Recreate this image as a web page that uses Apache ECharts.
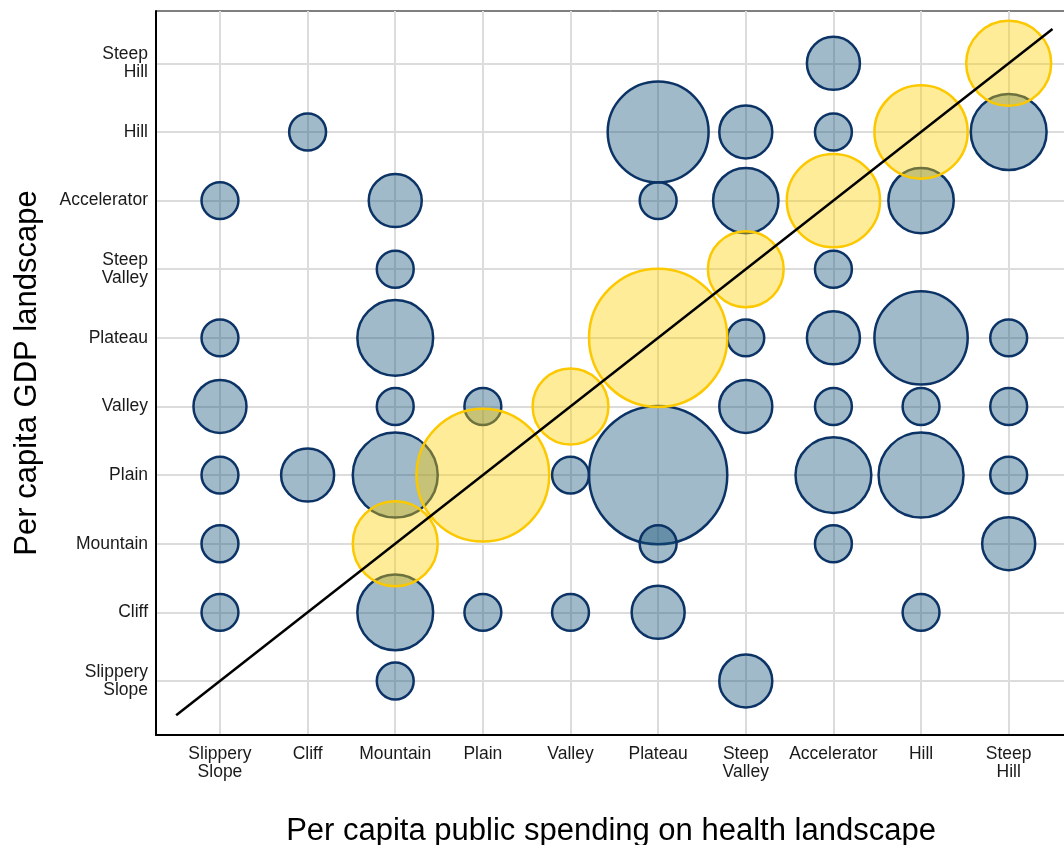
<!DOCTYPE html>
<html>
<head>
<meta charset="utf-8">
<title>GDP vs health spending landscapes</title>
<script src="https://cdn.jsdelivr.net/npm/echarts@6/dist/echarts.min.js"></script>
<style>
  html, body { margin: 0; padding: 0; background: #ffffff; }
  #chart { width: 1064px; height: 845px; }
</style>
</head>
<body>
<div id="chart"></div>
<script>
// Landscape categories, shared by both axes (low to high)
const categories = [
  'Slippery Slope', 'Cliff', 'Mountain', 'Plain', 'Valley',
  'Plateau', 'Steep Valley', 'Accelerator', 'Hill', 'Steep Hill'
];
// Tick labels: two-word names wrap onto two lines
const tickLabels = categories.map(c => c.replace(' ', '\n'));

// Countries whose health-spending landscape differs from their GDP landscape
// [spending landscape, GDP landscape, number of countries]
const mismatchedCells = [
  ['Slippery Slope', 'Accelerator', 1],
  ['Slippery Slope', 'Plateau', 1],
  ['Slippery Slope', 'Valley', 2],
  ['Slippery Slope', 'Plain', 1],
  ['Slippery Slope', 'Mountain', 1],
  ['Slippery Slope', 'Cliff', 1],
  ['Cliff', 'Hill', 1],
  ['Cliff', 'Plain', 2],
  ['Mountain', 'Accelerator', 2],
  ['Mountain', 'Steep Valley', 1],
  ['Mountain', 'Plateau', 4],
  ['Mountain', 'Valley', 1],
  ['Mountain', 'Plain', 5],
  ['Mountain', 'Cliff', 4],
  ['Mountain', 'Slippery Slope', 1],
  ['Plain', 'Valley', 1],
  ['Plain', 'Cliff', 1],
  ['Valley', 'Plain', 1],
  ['Valley', 'Cliff', 1],
  ['Plateau', 'Hill', 7],
  ['Plateau', 'Accelerator', 1],
  ['Plateau', 'Plain', 13],
  ['Plateau', 'Mountain', 1],
  ['Plateau', 'Cliff', 2],
  ['Steep Valley', 'Hill', 2],
  ['Steep Valley', 'Accelerator', 3],
  ['Steep Valley', 'Plateau', 1],
  ['Steep Valley', 'Valley', 2],
  ['Steep Valley', 'Slippery Slope', 2],
  ['Accelerator', 'Steep Hill', 2],
  ['Accelerator', 'Hill', 1],
  ['Accelerator', 'Steep Valley', 1],
  ['Accelerator', 'Plateau', 2],
  ['Accelerator', 'Valley', 1],
  ['Accelerator', 'Plain', 4],
  ['Accelerator', 'Mountain', 1],
  ['Hill', 'Accelerator', 3],
  ['Hill', 'Plateau', 6],
  ['Hill', 'Valley', 1],
  ['Hill', 'Plain', 5],
  ['Hill', 'Cliff', 1],
  ['Steep Hill', 'Hill', 4],
  ['Steep Hill', 'Plateau', 1],
  ['Steep Hill', 'Valley', 1],
  ['Steep Hill', 'Plain', 1],
  ['Steep Hill', 'Mountain', 2]
];

// Countries in the same landscape on both measures
const matchedCells = [
  ['Mountain', 'Mountain', 5],
  ['Plain', 'Plain', 12],
  ['Valley', 'Valley', 4],
  ['Plateau', 'Plateau', 13],
  ['Steep Valley', 'Steep Valley', 4],
  ['Accelerator', 'Accelerator', 6],
  ['Hill', 'Hill', 6],
  ['Steep Hill', 'Steep Hill', 5]
];

// Ends of the 45-degree reference line, in category units
const diagonalEnds = [-0.5, 9.5];

const toPoint = ([sx, gy, n]) => [categories.indexOf(sx), categories.indexOf(gy), n];
const bubbleSize = v => 38.9 * Math.sqrt(v[2]) - 2;
const positions = categories.map((_, i) => i);

const labelFont = {
  fontFamily: '"Liberation Sans", Arial, Helvetica, sans-serif',
  fontSize: 17.5,
  lineHeight: 18,
  color: '#1a1a1a'
};
const nameFont = {
  fontFamily: '"Liberation Sans", Arial, Helvetica, sans-serif',
  fontSize: 31,
  color: '#000000'
};

const chart = echarts.init(document.getElementById('chart'), null, { renderer: 'canvas' });

chart.setOption({
  animation: false,
  backgroundColor: '#ffffff',
  grid: {
    left: 156, right: -2, top: 11, bottom: 110,
    outerBoundsMode: 'none',
    containLabel: false,
    show: true, borderColor: '#000000', borderWidth: 1,
    backgroundColor: 'transparent'
  },
  xAxis: {
    type: 'value',
    min: -0.730, max: 9.654,
    name: 'Per capita public spending on health landscape',
    nameLocation: 'middle',
    nameGap: 81,
    nameTextStyle: nameFont,
    axisLine: { show: true, onZero: false, lineStyle: { color: '#000000', width: 2 } },
    axisTick: { show: false, customValues: positions },
    axisLabel: Object.assign({
      customValues: positions,
      margin: 10,
      formatter: v => tickLabels[Math.round(v)]
    }, labelFont),
    splitLine: { show: true, lineStyle: { color: '#dcdcdc', width: 2 } }
  },
  yAxis: {
    type: 'value',
    min: -0.787, max: 9.763,
    name: 'Per capita GDP landscape',
    nameLocation: 'middle',
    nameGap: 113,
    nameTextStyle: nameFont,
    axisLine: { show: true, onZero: false, lineStyle: { color: '#000000', width: 2 } },
    axisTick: { show: false, customValues: positions },
    axisLabel: Object.assign({
      customValues: positions,
      margin: 8,
      align: 'right',
      padding: [5, 0, 0, 0],
      formatter: v => tickLabels[Math.round(v)]
    }, labelFont),
    splitLine: { show: true, lineStyle: { color: '#dcdcdc', width: 2 } }
  },
  series: [
    {
      name: 'Different landscape',
      type: 'scatter',
      data: mismatchedCells.map(toPoint),
      symbol: 'circle',
      symbolSize: bubbleSize,
      itemStyle: {
        opacity: 1,
        color: 'rgba(18, 82, 120, 0.40)',
        borderColor: '#0c3366',
        borderWidth: 2.5
      },
      emphasis: { disabled: true },
      z: 3
    },
    {
      name: 'Same landscape',
      type: 'scatter',
      data: matchedCells.map(toPoint),
      symbol: 'circle',
      symbolSize: bubbleSize,
      itemStyle: {
        opacity: 1,
        color: 'rgba(255, 208, 0, 0.40)',
        borderColor: '#fcc800',
        borderWidth: 2.5
      },
      emphasis: { disabled: true },
      z: 4
    },
    {
      name: 'Diagonal',
      type: 'line',
      data: [[diagonalEnds[0], diagonalEnds[0]], [diagonalEnds[1], diagonalEnds[1]]],
      symbol: 'none',
      lineStyle: { color: '#000000', width: 2.5 },
      emphasis: { disabled: true },
      z: 5
    }
  ]
});
</script>
</body>
</html>
